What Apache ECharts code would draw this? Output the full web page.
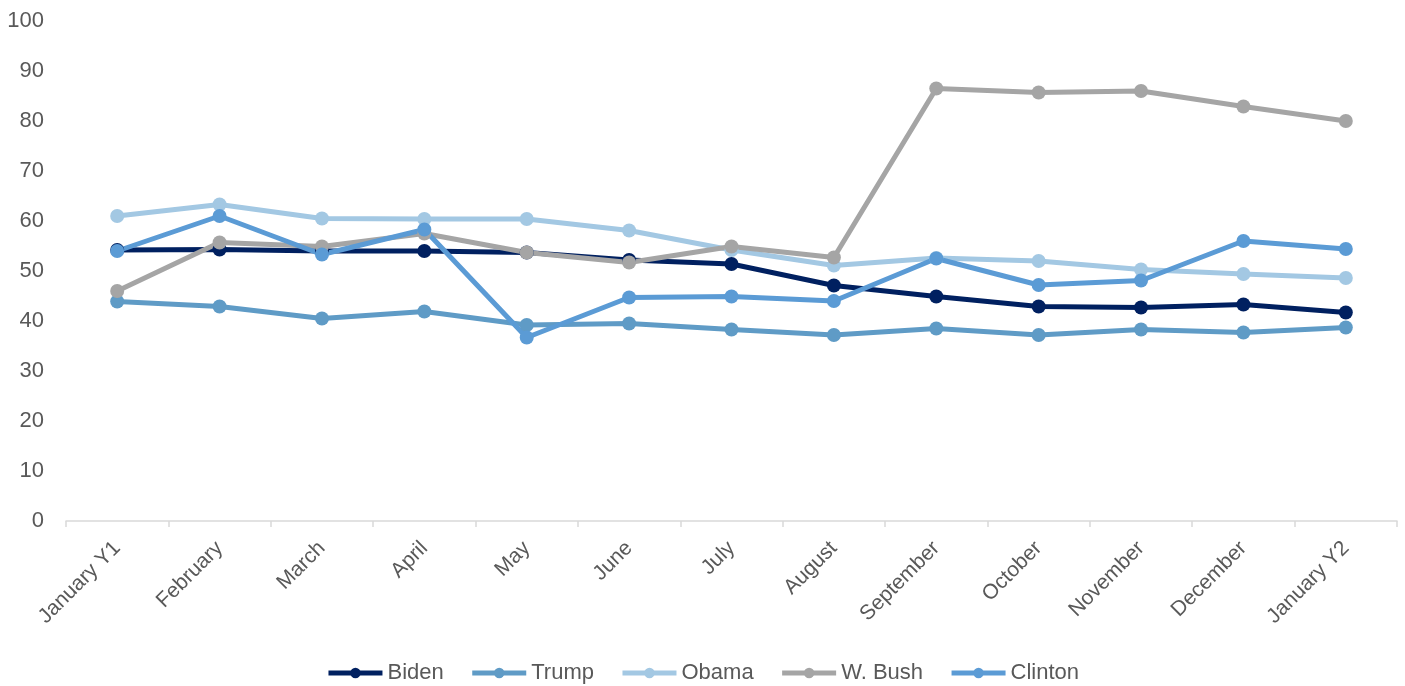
<!DOCTYPE html>
<html>
<head>
<meta charset="utf-8">
<script src="https://cdn.jsdelivr.net/npm/echarts@6/dist/echarts.min.js"></script>
<style>
  html, body { margin: 0; padding: 0; background: #ffffff; }
  #chart { width: 1405px; height: 686px; }
</style>
</head>
<body>
<div id="chart"></div>
<script>
// Monthly approval ratings by president, first year in office
const months = ['January Y1', 'February', 'March', 'April', 'May', 'June', 'July',
  'August', 'September', 'October', 'November', 'December', 'January Y2'];

const biden   = [54.2, 54.3, 54.0, 54.0, 53.7, 52.2, 51.4, 47.1, 44.9, 42.9, 42.7, 43.3, 41.7];
const trump   = [43.9, 42.9, 40.5, 41.9, 39.2, 39.5, 38.3, 37.2, 38.5, 37.2, 38.3, 37.7, 38.7];
const obama   = [61.0, 63.3, 60.5, 60.4, 60.4, 58.1, 54.2, 51.1, 52.6, 52.0, 50.3, 49.4, 48.6];
const wBush   = [46.0, 55.7, 54.9, 57.5, 53.7, 51.7, 54.9, 52.7, 86.5, 85.7, 86.0, 82.9, 80.0];
const clinton = [54.0, 61.0, 53.3, 58.3, 36.7, 44.7, 44.9, 44.0, 52.5, 47.2, 48.1, 56.0, 54.4];

const yTicks = { min: 0, max: 100, interval: 10 };

const seriesDefs = [
  { name: 'Biden',   data: biden,   color: '#002060' },
  { name: 'Trump',   data: trump,   color: '#5f9bc6' },
  { name: 'Obama',   data: obama,   color: '#a3c8e3' },
  { name: 'W. Bush', data: wBush,   color: '#a5a5a5' },
  { name: 'Clinton', data: clinton, color: '#5b9bd5' }
];

const labelFont = 'Liberation Sans, Arial, sans-serif';
const chart = echarts.init(document.getElementById('chart'));

chart.setOption({
  animation: false,
  backgroundColor: '#ffffff',
  grid: { left: 66, right: 8, top: 21, bottom: 165, containLabel: false },
  legend: {
    top: 657,
    left: 'center',
    itemWidth: 54,
    itemHeight: 13,
    itemGap: 26,
    lineStyle: { width: 5 },
    textStyle: { color: '#595959', fontSize: 22, fontFamily: labelFont },
    data: seriesDefs.map(s => s.name)
  },
  xAxis: {
    type: 'category',
    data: months,
    boundaryGap: true,
    axisLine: { lineStyle: { color: '#d9d9d9', width: 1.5 } },
    axisTick: { show: true, alignWithLabel: false, length: 6, lineStyle: { color: '#d9d9d9', width: 1.5 } },
    axisLabel: {
      interval: 0,
      rotate: 45,
      margin: 24,
      color: '#595959',
      fontSize: 21,
      fontFamily: labelFont
    },
    splitLine: { show: false }
  },
  yAxis: {
    type: 'value',
    min: yTicks.min,
    max: yTicks.max,
    interval: yTicks.interval,
    axisLine: { show: false },
    axisTick: { show: false },
    splitLine: { show: false },
    axisLabel: { color: '#595959', fontSize: 22, fontFamily: labelFont, margin: 22 }
  },
  series: seriesDefs.map(s => ({
    name: s.name,
    type: 'line',
    data: s.data,
    symbol: 'circle',
    symbolSize: 14,
    color: s.color,
    lineStyle: { color: s.color, width: 5 },
    itemStyle: { color: s.color },
    emphasis: { disabled: true }
  }))
});
</script>
</body>
</html>
